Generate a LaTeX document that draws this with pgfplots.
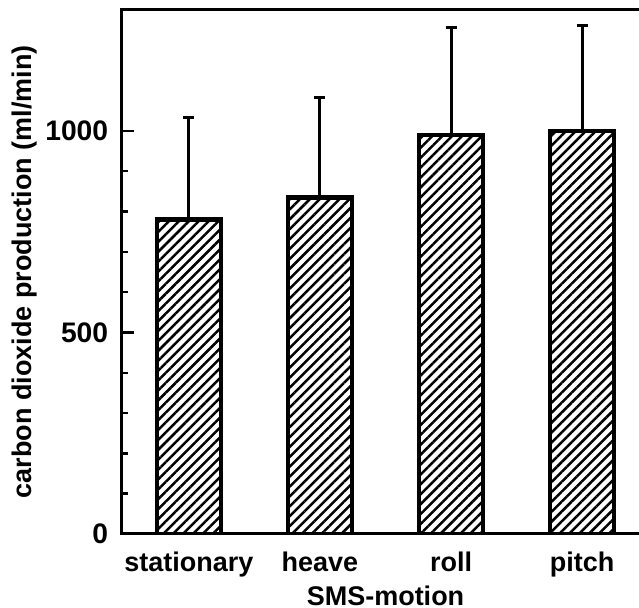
\documentclass[border=0pt]{standalone}
\usepackage{fontspec}
\setmainfont{Liberation Sans}
\usepackage{pgfplots}
\pgfplotsset{compat=1.18}
\usetikzlibrary{patterns.meta}
\begin{document}
\begin{tikzpicture}
\begin{axis}[
  scale only axis,
  width=210.8pt, height=209.6pt,
  xmin=-0.51, xmax=3.51, ymin=0, ymax=1300,
  xtick={0,1,2,3},
  xticklabels={stationary,heave,roll,pitch},
  ytick={0,500,1000},
  minor y tick num=4,
  ytick pos=left,
  tick align=inside,
  major tick length=5pt,
  minor tick length=2.6pt,
  x tick style={draw=none},
  y tick style={line width=1pt, black},
  axis line style={line width=1.2pt},
  every tick label/.append style={font=\fontsize{10.8}{12}\selectfont\bfseries},
  yticklabel style={font=\fontsize{11.3}{13}\selectfont\bfseries, xshift=-2pt},
  label style={font=\fontsize{10.8}{12}\selectfont\bfseries},
  /pgf/number format/assume math mode=true,
  /pgf/number format/1000 sep={},
  xticklabel style={yshift=1.5pt},
  xlabel={SMS-motion},
  xlabel style={yshift=3.2pt},
  ylabel={carbon dioxide production (ml/min)},
  ylabel style={at={(axis description cs:-0.185,0.5)}, anchor=center},
  ybar, bar width=25.6pt,
]
\addplot[draw=black, line width=1.8pt,
  pattern={Lines[angle=45,distance=2.8pt,line width=1pt]},
  error bars/.cd, y dir=plus, y explicit,
  error bar style={line width=1.2pt, black},
  error mark options={rotate=90, mark size=2.2pt, line width=1.2pt, black}]
coordinates {(0,780) +- (0,253) (1,835) +- (0,248) (2,990) +- (0,267) (3,1000) +- (0,262)};
\draw[line width=1pt] (axis cs:3.51,500) -- ++(-7pt,0);
\draw[line width=1pt] (axis cs:3.51,1000) -- ++(-7pt,0);
\end{axis}
\pgfresetboundingbox
\path[use as bounding box] ([xshift=-48.8pt,yshift=-29.6pt]current axis.south west) rectangle ([xshift=-4pt,yshift=4pt]current axis.north east);
\end{tikzpicture}
\end{document}
